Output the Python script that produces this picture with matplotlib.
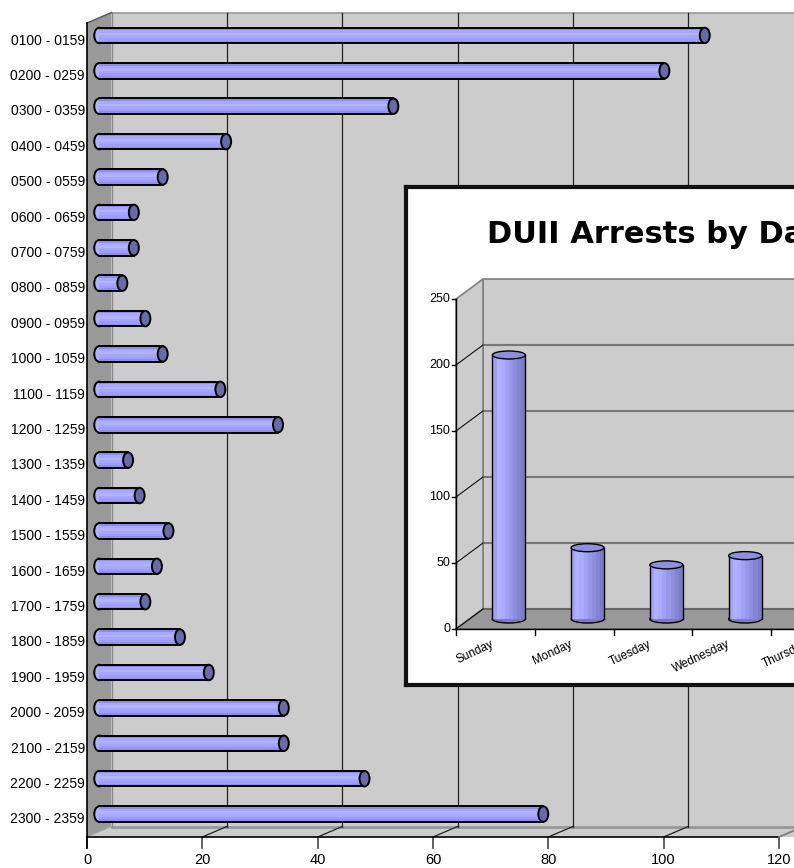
import matplotlib.pyplot as plt
from matplotlib.patches import Polygon, Rectangle, Ellipse

plt.rcParams["font.family"] = ["Liberation Sans", "DejaVu Sans"]

# arrests by hour of day (main chart)
hours = [
    "0100 - 0159", "0200 - 0259", "0300 - 0359", "0400 - 0459", "0500 - 0559",
    "0600 - 0659", "0700 - 0759", "0800 - 0859", "0900 - 0959", "1000 - 1059",
    "1100 - 1159", "1200 - 1259", "1300 - 1359", "1400 - 1459", "1500 - 1559",
    "1600 - 1659", "1700 - 1759", "1800 - 1859", "1900 - 1959", "2000 - 2059",
    "2100 - 2159", "2200 - 2259", "2300 - 2359",
]
arrests_by_hour = [105, 98, 51, 22, 11, 6, 6, 4, 8, 11, 21, 31, 5, 7, 12, 10, 8, 14, 19, 32, 32, 46, 77]
hour_ticks = [0, 20, 40, 60, 80, 100, 120]

# arrests by day of week (inset, cut off at the right edge)
days = ["Sunday", "Monday", "Tuesday", "Wednesday", "Thursday", "Friday", "Saturday"]
arrests_by_day = [200, 54, 41, 48]
day_ticks = [0, 50, 100, 150, 200, 250]
inset_title = "DUII Arrests by Day of Week"

W, H = 794, 868
fig = plt.figure(figsize=(W / 100, H / 100), dpi=100)

# ---- main 3D-ish horizontal cylinder chart ----
ax = fig.add_axes([0, 0, 1, 1])
px = 692 / 120          # pixels per arrest
band = 814 / len(hours)  # pixels per category
ax.set_xlim(-87 / px, (W - 87) / px)
ax.set_ylim(-(H - 837) / band, len(hours) + 23 / band)
ax.axis("off")

n = len(hours)
dx = 24.5 / px
dy = 10.5 / band
right = 160

ax.add_patch(Rectangle((dx, dy), right, n, fc="#cccccc", ec="none", zorder=0))
ax.plot([dx, right], [n + dy, n + dy], color="#999999", lw=1.2, zorder=1)
ax.add_patch(Polygon([(0, 0), (dx, dy), (dx, n + dy), (0, n)], fc="#999999", ec="none", zorder=1))
ax.add_patch(Polygon([(0, 0), (right, 0), (right + dx, dy), (dx, dy)], fc="#cccccc", ec="none", zorder=1))
ax.plot([dx, right], [dy, dy], color="#999999", lw=2, zorder=1.5)
ax.plot([0, dx], [0, dy], color="#aaaaaa", lw=0.8, zorder=1.5)
ax.plot([dx, dx], [dy, n + dy], color="#888888", lw=1, zorder=1.5)
ax.plot([0, dx], [n, n + dy], color="#555555", lw=1, zorder=2)

for t in hour_ticks[1:]:
    ax.plot([t + dx, t + dx], [dy, n + dy], color="#222222", lw=0.9, zorder=2)
    ax.plot([t, t + dx], [0, dy], color="#222222", lw=0.9, zorder=2)
for t in hour_ticks:
    ax.plot([t, t], [0, -11 / band], color="#555555", lw=1.3, zorder=2)
    ax.text(t, -23 / band, str(t), ha="center", va="center", fontsize=10.5)

ax.plot([0, 120], [0, 0], color="black", lw=1.2, zorder=2)
ax.plot([120, 120 + dx], [0, dy], color="#888888", lw=1.2, zorder=2)
ax.plot([0, 0], [-11 / band, n], color="black", lw=1.2, zorder=2)

bar_h = 15.5 / band
cap_w = 10 / px
shades = ["#8e8ee8", "#a8a8ff", "#b2b2ff", "#a6a6ff", "#9e9ef8", "#9090e6"]
for i, (lab, v) in enumerate(zip(hours, arrests_by_hour)):
    yc_front = n - i - 0.5
    ax.text(-2 / px, yc_front, lab, ha="right", va="center", fontsize=10)
    yc = yc_front + dy / 2
    x0, x1 = dx / 2, v + dx / 2
    ax.add_patch(Ellipse((x0, yc), cap_w, bar_h, fc=shades[2], ec="black", lw=1.4, zorder=3))
    k = len(shades)
    for j, c in enumerate(shades[::-1]):
        ax.add_patch(Rectangle((x0, yc - bar_h / 2 + j * bar_h / k), x1 - x0, bar_h / k,
                               fc=c, ec="none", zorder=4))
    ax.plot([x0, x1], [yc + bar_h / 2] * 2, color="black", lw=1.4, zorder=5)
    ax.plot([x0, x1], [yc - bar_h / 2] * 2, color="black", lw=1.4, zorder=5)
    ax.add_patch(Ellipse((x1, yc), cap_w, bar_h, fc="#6a6aa6", ec="black", lw=1.4, zorder=6))

# ---- inset: arrests by day ----
ax2 = fig.add_axes([406 / W, (H - 685) / H, (W - 406) / W, (685 - 187) / H])
cx = 78.75   # pixels per day
vy = 1.32    # pixels per arrest
ax2.set_xlim((406 - 456) / cx, (W - 456) / cx)
ax2.set_ylim((629 - 685) / vy, (629 - 187) / vy)
ax2.set_xticks([])
ax2.set_yticks([])
ax2.set_facecolor("white")
for s in ["left", "top", "bottom"]:
    ax2.spines[s].set_linewidth(3)
    ax2.spines[s].set_color("#111111")
ax2.spines["right"].set_visible(False)

ddx = 27 / cx
ddy = 20 / vy
ymax = day_ticks[-1]
xr = len(days) + 1

ax2.add_patch(Rectangle((ddx, ddy), xr, ymax, fc="#cccccc", ec="#808080", lw=1.2, zorder=1))
ax2.add_patch(Polygon([(0, 0), (ddx, ddy), (ddx, ymax + ddy), (0, ymax)],
                      fc="#cccccc", ec="#808080", lw=1.2, zorder=1))
ax2.add_patch(Polygon([(0, 0), (xr, 0), (xr + ddx, ddy), (ddx, ddy)],
                      fc="#999999", ec="#666666", lw=1, zorder=1))
for t in day_ticks[1:-1]:
    ax2.plot([ddx, xr], [t + ddy] * 2, color="#777777", lw=1.5, zorder=2)
    ax2.plot([0, ddx], [t, t + ddy], color="#111111", lw=0.8, zorder=2)
ax2.plot([ddx, xr], [ddy, ddy], color="#666666", lw=1.5, zorder=2)
ax2.plot([0, ddx], [0, ddy], color="#111111", lw=0.8, zorder=2)

ax2.plot([0, 0], [0, ymax], color="black", lw=1, zorder=3)
ax2.plot([0, xr], [0, 0], color="black", lw=1, zorder=3)
for t in day_ticks:
    ax2.plot([-4 / cx, 0], [t, t], color="black", lw=1, zorder=3)
    ax2.text(-6 / cx, t, str(t), ha="right", va="center", fontsize=9)
for i in range(len(days) + 1):
    ax2.plot([i, i], [0, -6 / vy], color="black", lw=1, zorder=3)
for i, d in enumerate(days):
    ax2.text(i + 0.5 - 5 / cx, -9 / vy, d, ha="right", va="top", rotation=25,
             rotation_mode="anchor", fontsize=8.5)

col_w = 33 / cx
ell_h = 8 / vy
col_shades = ["#a2a2f4", "#b0b0ff", "#aaaaff", "#a0a0f4", "#9898ea", "#8e8ee0", "#8484d2", "#7c7cc6"]
for i, v in enumerate(arrests_by_day):
    xc = i + 0.5 + ddx / 2
    base, top = ddy / 2, v + ddy / 2
    ax2.add_patch(Ellipse((xc, base), col_w, ell_h, fc=col_shades[-1], ec="black", lw=1, zorder=4))
    k = len(col_shades)
    for j, c in enumerate(col_shades):
        ax2.add_patch(Rectangle((xc - col_w / 2 + j * col_w / k, base), col_w / k, top - base,
                                fc=c, ec="none", zorder=5))
    ax2.plot([xc - col_w / 2] * 2, [base, top], color="black", lw=1, zorder=6)
    ax2.plot([xc + col_w / 2] * 2, [base, top], color="black", lw=1, zorder=6)
    ax2.add_patch(Ellipse((xc, top), col_w, ell_h, fc="#8f8fdc", ec="black", lw=1, zorder=7))

fig.text(487 / W, 1 - 243 / H, inset_title, ha="left", va="baseline",
         fontsize=22, fontweight="bold", family="DejaVu Sans")

fig.savefig("out.png", dpi=100)
